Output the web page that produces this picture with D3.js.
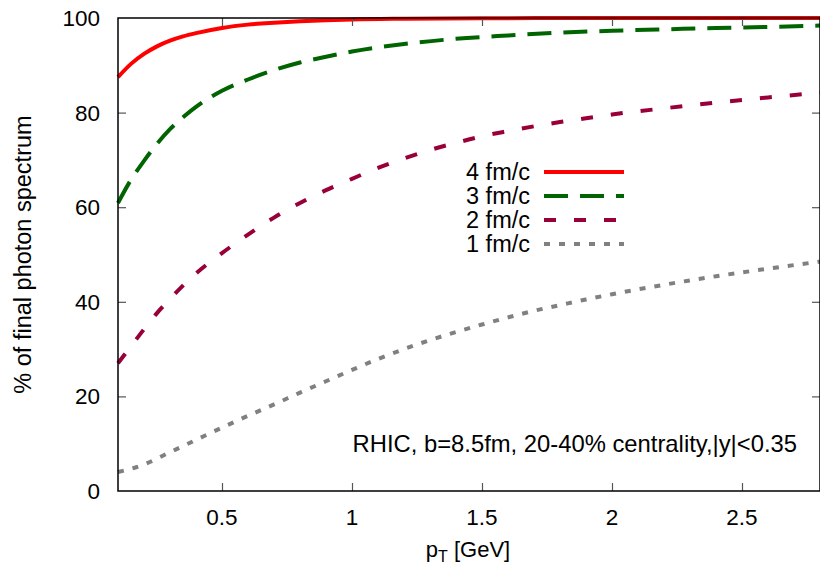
<!DOCTYPE html>
<html>
<head>
<meta charset="utf-8">
<script src="https://cdn.jsdelivr.net/npm/d3@7"></script>
<style>
  html, body { margin: 0; padding: 0; background: #fff; }
  svg { display: block; font-family: "Liberation Sans", Arial, Helvetica, sans-serif; }
</style>
</head>
<body>
<svg id="chart" width="820" height="566"></svg>
<script>
// ---- Data ----
const xTicks = [0.5, 1, 1.5, 2, 2.5];
const yTicks = [0, 20, 40, 60, 80, 100];

const pt4 = [0.1, 0.15, 0.2, 0.25, 0.3, 0.35, 0.4, 0.5, 0.6, 0.7, 0.8, 1.0, 1.2, 1.5, 2.0, 2.8];
const fm4 = [87.5, 90.3, 92.4, 94.0, 95.2, 96.1, 96.8, 97.9, 98.6, 99.0, 99.3, 99.7, 99.85, 99.95, 100, 100];

const pt3 = [0.1, 0.15, 0.2, 0.25, 0.3, 0.35, 0.4, 0.5, 0.6, 0.7, 0.8, 0.9, 1.0, 1.2, 1.4, 1.6, 1.8, 2.0, 2.2, 2.4, 2.6, 2.8];
const fm3 = [60.9, 65.8, 69.8, 73.4, 76.5, 79.0, 81.2, 84.6, 87.0, 89.0, 90.6, 91.8, 92.9, 94.5, 95.6, 96.3, 96.9, 97.3, 97.6, 97.9, 98.1, 98.4];

const pt2 = [0.1, 0.15, 0.2, 0.25, 0.3, 0.4, 0.5, 0.6, 0.7, 0.8, 0.9, 1.0, 1.1, 1.2, 1.3, 1.4, 1.5, 1.6, 1.7, 1.8, 1.9, 2.0, 2.2, 2.4, 2.6, 2.8];
const fm2 = [27.0, 30.6, 34.2, 37.6, 40.6, 46.0, 50.3, 54.2, 57.8, 60.9, 63.6, 66.0, 68.3, 70.3, 72.1, 73.6, 75.0, 76.1, 77.1, 78.0, 78.8, 79.6, 80.9, 82.1, 83.2, 84.2];

const pt1 = [0.1, 0.2, 0.3, 0.4, 0.5, 0.6, 0.7, 0.8, 0.9, 1.0, 1.1, 1.2, 1.3, 1.4, 1.5, 1.6, 1.7, 1.8, 1.9, 2.0, 2.2, 2.4, 2.6, 2.8];
const fm1 = [4.0, 5.6, 8.2, 10.8, 13.4, 15.9, 18.3, 20.8, 23.2, 25.6, 27.9, 30.0, 31.9, 33.6, 35.2, 36.7, 38.1, 39.3, 40.5, 41.6, 43.6, 45.4, 47.0, 48.5];

const seriesNames = ["4 fm/c", "3 fm/c", "2 fm/c", "1 fm/c"];
const seriesX = [pt4, pt3, pt2, pt1];
const seriesY = [fm4, fm3, fm2, fm1];
const seriesColors = ["#ff0000", "#006400", "#99003a", "#808080"];
const seriesDash = [null, "24,12", "12,18", "6,9"];

const xLabel = "p";
const xLabelSub = "T";
const xLabelRest = " [GeV]";
const yLabel = "% of final photon spectrum";
const note = "RHIC, b=8.5fm, 20-40% centrality,|y|<0.35";

// ---- Layout ----
const svg = d3.select("#chart");
const mLeft = 118, mRight = 820, mTop = 18, mBottom = 491;
const x = d3.scaleLinear().domain([0.1, 2.8]).range([mLeft, mRight]);
const y = d3.scaleLinear().domain([0, 100]).range([mBottom, mTop]);
const tickFont = 22.5, labelFont = 23.5, noteFont = 23.8;

// curves
const line = d3.line().x(d => x(d[0])).y(d => y(d[1])).curve(d3.curveMonotoneX);
seriesX.forEach((xs, i) => {
  const pts = xs.map((v, j) => [v, seriesY[i][j]]);
  svg.append("path")
    .attr("d", line(pts))
    .attr("fill", "none")
    .attr("stroke", seriesColors[i])
    .attr("stroke-width", 4)
    .attr("stroke-dasharray", seriesDash[i]);
});

// axes (ticks inward, mirrored)
const tickCol = "#555";
const axB = d3.axisBottom(x).tickValues(xTicks).tickSize(-8).tickFormat("");
const axT = d3.axisTop(x).tickValues(xTicks).tickSize(-8).tickFormat("");
const axL = d3.axisLeft(y).tickValues(yTicks.slice(1, -1)).tickSize(-8).tickFormat("");
const axR = d3.axisRight(y).tickValues(yTicks.slice(1, -1)).tickSize(-8).tickFormat("");
[[axB, `translate(0,${mBottom})`], [axT, `translate(0,${mTop})`], [axL, `translate(${mLeft},0)`], [axR, `translate(${mRight},0)`]]
  .forEach(([ax, tr]) => {
    const g = svg.append("g").attr("transform", tr).call(ax);
    g.select(".domain").remove();
    g.selectAll(".tick line").attr("stroke", tickCol).attr("stroke-width", 1.2);
  });

// border
svg.append("rect")
  .attr("x", mLeft).attr("y", mTop)
  .attr("width", mRight - mLeft).attr("height", mBottom - mTop)
  .attr("fill", "none").attr("stroke", "#000").attr("stroke-width", 1.5);

// tick labels
svg.append("g").selectAll("text").data(xTicks).join("text")
  .attr("x", d => x(d)).attr("y", 525)
  .attr("text-anchor", "middle").attr("font-size", tickFont)
  .text(d => d3.format("~g")(d));
svg.append("g").selectAll("text").data(yTicks).join("text")
  .attr("x", 100).attr("y", d => y(d) + 8)
  .attr("text-anchor", "end").attr("font-size", tickFont)
  .text(d => d);

// axis titles
const xt = svg.append("text").attr("x", 468).attr("y", 557)
  .attr("text-anchor", "middle").attr("font-size", 22);
xt.append("tspan").text(xLabel);
xt.append("tspan").attr("font-size", 16).attr("dy", 5).text(xLabelSub);
xt.append("tspan").attr("dy", -5).text(xLabelRest);

svg.append("text")
  .attr("transform", `translate(31,${(mTop + mBottom) / 2}) rotate(-90)`)
  .attr("text-anchor", "middle").attr("font-size", labelFont)
  .text(yLabel);

// legend
const lg = svg.append("g");
seriesNames.forEach((name, i) => {
  const by = 180 + i * 24;
  lg.append("text").attr("x", 530).attr("y", by)
    .attr("text-anchor", "end").attr("font-size", labelFont).text(name);
  lg.append("line").attr("x1", 544).attr("x2", 624)
    .attr("y1", by - 8).attr("y2", by - 8)
    .attr("stroke", seriesColors[i]).attr("stroke-width", 4)
    .attr("stroke-dasharray", seriesDash[i]);
});

// annotation
svg.append("text").attr("x", 797).attr("y", 452)
  .attr("text-anchor", "end").attr("font-size", noteFont).text(note);
</script>
</body>
</html>
